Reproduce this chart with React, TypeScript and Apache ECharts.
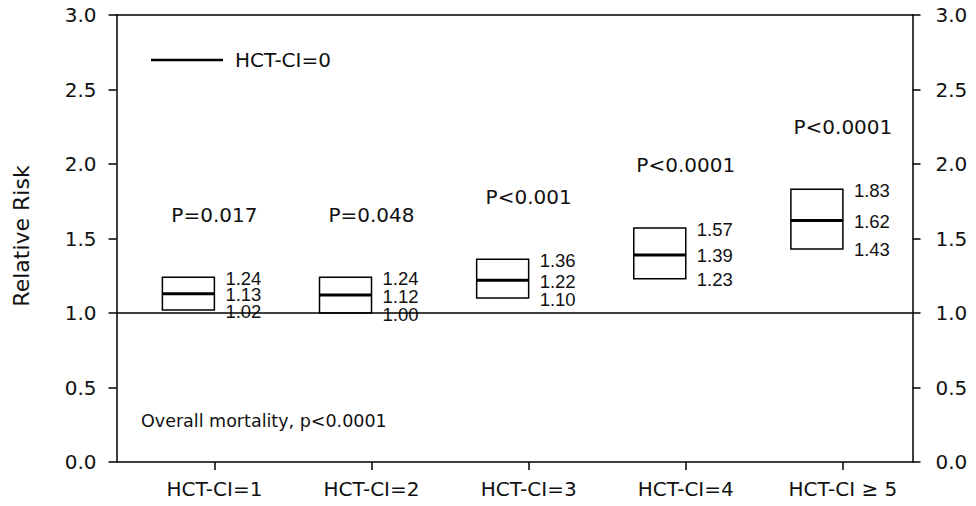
import React, { useEffect, useRef } from "react";
import * as echarts from "echarts";

// Relative risk by HCT-CI score group (HCT-CI=0 is the reference, RR = 1)
const categories = ["HCT-CI=1", "HCT-CI=2", "HCT-CI=3", "HCT-CI=4", "HCT-CI \u2265 5"];
const lower = [1.02, 1.0, 1.1, 1.23, 1.43];
const median = [1.13, 1.12, 1.22, 1.39, 1.62];
const upper = [1.24, 1.24, 1.36, 1.57, 1.83];
const pValues = ["P=0.017", "P=0.048", "P<0.001", "P<0.0001", "P<0.0001"];
const referenceRisk = 1.0;
const legendLabel = "HCT-CI=0";
const footnote = "Overall mortality, p<0.0001";
const axisTitle = "Relative Risk";

const positions = categories.map((_, i) => i + 1);
const FONT = "'DejaVu Sans', Verdana, sans-serif";
const VALUE_FONT = "'Liberation Sans', Arial, sans-serif";
const TEXT_COLOR = "#111";

export default function App() {
  const ref = useRef<HTMLDivElement>(null);

  useEffect(() => {
    if (!ref.current) return;
    const chart = echarts.init(ref.current, undefined, { renderer: "svg" });

    const boxData = positions.map((x, i) => [x, lower[i], median[i], upper[i]]);

    const yAxisCommon = {
      type: "value" as const,
      min: 0,
      max: 3,
      interval: 0.5,
      axisLine: { show: true, lineStyle: { color: "#000", width: 1.5 } },
      axisTick: { show: true, inside: false, length: 8, lineStyle: { color: "#000", width: 1.5 } },
      splitLine: { show: false },
      axisLabel: {
        color: TEXT_COLOR,
        fontFamily: FONT,
        fontSize: 20,
        formatter: (v: number) => v.toFixed(1),
      },
    };

    chart.setOption({
      animation: false,
      backgroundColor: "#fff",
      grid: { left: 116.5, right: 63.5, top: 15, bottom: 44 },
      xAxis: [
        {
          type: "value",
          min: 0.377,
          max: 5.443,
          position: "bottom",
          axisLine: { show: true, onZero: false, lineStyle: { color: "#000", width: 1.5 } },
          axisTick: {
            show: true,
            inside: false,
            length: 8,
            customValues: positions,
            lineStyle: { color: "#000", width: 1.5 },
          },
          axisLabel: {
            customValues: positions,
            color: TEXT_COLOR,
            fontFamily: FONT,
            fontSize: 20,
            margin: 17,
            formatter: (v: number) => categories[Math.round(v) - 1] ?? "",
          },
          splitLine: { show: false },
        },
        {
          type: "value",
          min: 0.377,
          max: 5.443,
          position: "top",
          axisLine: { show: true, onZero: false, lineStyle: { color: "#000", width: 1.5 } },
          axisTick: { show: false },
          axisLabel: { show: false },
          splitLine: { show: false },
        },
      ],
      yAxis: [
        { ...yAxisCommon, position: "left", axisLabel: { ...yAxisCommon.axisLabel, margin: 20 } },
        { ...yAxisCommon, position: "right", axisLabel: { ...yAxisCommon.axisLabel, margin: 23 } },
      ],
      series: [
        {
          type: "custom",
          xAxisIndex: 0,
          yAxisIndex: 0,
          clip: false,
          data: boxData,
          encode: { x: 0, y: [1, 2, 3] },
          renderItem: (params: any, api: any) => {
            const x = api.value(0);
            const lo = api.value(1);
            const mid = api.value(2);
            const hi = api.value(3);
            const top = api.coord([x, hi]);
            const bot = api.coord([x, lo]);
            const mi = api.coord([x, mid]);
            const pPos = api.coord([x, hi + 0.42]);
            const w = 52;
            const right = top[0];
            const left = right - w;
            const labelX = right + 11;
            const valueText = (v: number, y: number) => ({
              type: "text",
              style: {
                x: labelX,
                y,
                text: v.toFixed(2),
                fill: TEXT_COLOR,
                font: `18.5px ${VALUE_FONT}`,
                textAlign: "left",
                textVerticalAlign: "middle",
              },
            });
            return {
              type: "group",
              children: [
                {
                  type: "rect",
                  shape: { x: left, y: top[1], width: w, height: bot[1] - top[1] },
                  style: { fill: "#fff", stroke: "#000", lineWidth: 1.5 },
                },
                {
                  type: "line",
                  shape: { x1: left, y1: mi[1], x2: right, y2: mi[1] },
                  style: { stroke: "#000", lineWidth: 3 },
                },
                valueText(hi, top[1] + 1),
                valueText(mid, mi[1] + 1),
                valueText(lo, bot[1] + 1),
                {
                  type: "text",
                  style: {
                    x: right,
                    y: pPos[1],
                    text: pValues[params.dataIndex],
                    fill: TEXT_COLOR,
                    font: `20px ${FONT}`,
                    textAlign: "center",
                    textVerticalAlign: "middle",
                  },
                },
              ],
            };
          },
          markLine: {
            silent: true,
            symbol: "none",
            animation: false,
            label: { show: false },
            lineStyle: { color: "#000", width: 1.5, type: "solid" },
            data: [{ yAxis: referenceRisk }],
          },
          z: 3,
        },
      ],
      graphic: [
        {
          type: "line",
          shape: { x1: 151, y1: 60, x2: 223, y2: 60 },
          style: { stroke: "#000", lineWidth: 2.5 },
        },
        {
          type: "text",
          x: 235,
          y: 60,
          style: {
            text: legendLabel,
            fill: TEXT_COLOR,
            font: `20px ${FONT}`,
            textAlign: "left",
            textVerticalAlign: "middle",
          },
        },
        {
          type: "text",
          x: 141,
          y: 421,
          style: {
            text: footnote,
            fill: TEXT_COLOR,
            font: `17.5px ${FONT}`,
            textAlign: "left",
            textVerticalAlign: "middle",
          },
        },
        {
          type: "text",
          x: 21,
          y: 236,
          rotation: Math.PI / 2,
          style: {
            text: axisTitle,
            fill: TEXT_COLOR,
            font: `22px ${FONT}`,
            textAlign: "center",
            textVerticalAlign: "middle",
          },
        },
      ],
    });

    return () => chart.dispose();
  }, []);

  return (
    <div
      ref={ref}
      style={{ position: "absolute", left: 0, top: 0, width: 976, height: 506 }}
    />
  );
}
